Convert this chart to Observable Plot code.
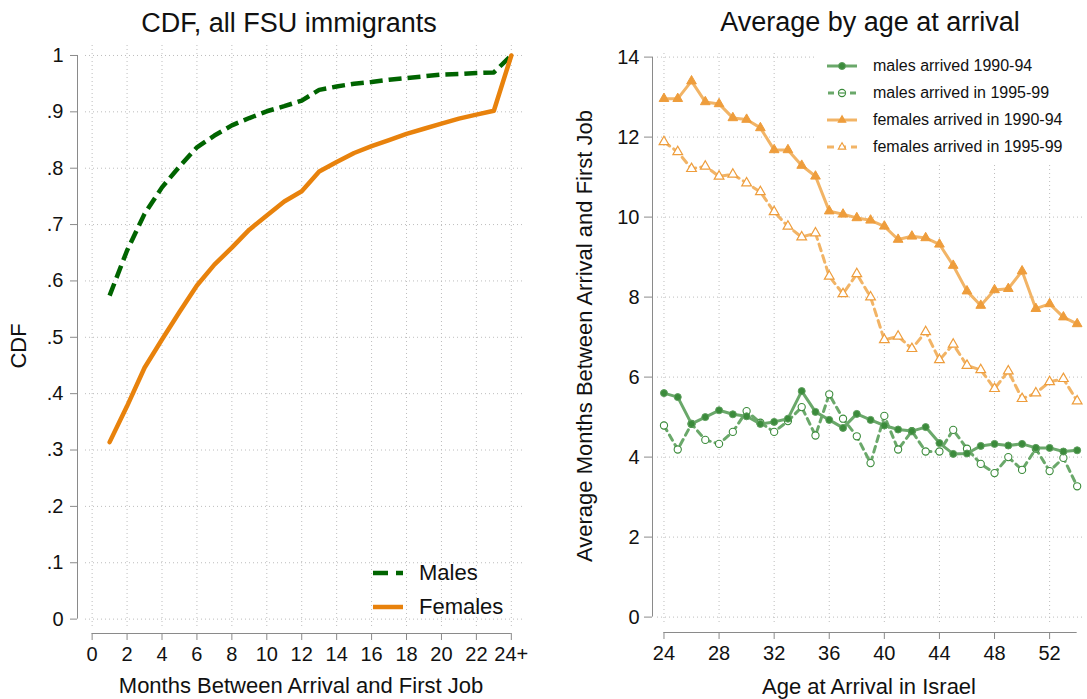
<!DOCTYPE html>
<html>
<head>
<meta charset="utf-8">
<script src="https://cdn.jsdelivr.net/npm/d3@7"></script>
<script src="https://cdn.jsdelivr.net/npm/@observablehq/plot@0.6"></script>
<style>
  body { margin: 0; background: #fff; font-family: "Liberation Sans", Arial, Helvetica, sans-serif; }
  #wrap { position: relative; width: 1087px; height: 699px; overflow: hidden; background: #fff; }
  .abs { position: absolute; white-space: nowrap; color: #111; }
  .title { font-size: 27px; transform: translate(-50%, -50%); }
  .axlab { font-size: 22px; transform: translate(-50%, -50%); }
  .ylab { font-size: 22px; transform: translate(-50%, -50%) rotate(-90deg); }
  #wrap svg.plotsvg { position: absolute; top: 0; overflow: visible; }
  .leg { position: absolute; display: flex; align-items: center; white-space: nowrap; color: #111; }
  .leg svg { display: block; margin-right: 16px; }
</style>
</head>
<body>
<div id="wrap"></div>
<script>
// ---------- Left panel data: CDF ----------
const months = [1, 2, 3, 4, 5, 6, 7, 8, 9, 10, 11, 12, 13, 14, 15, 16, 17, 18, 19, 20, 21, 22, 23, 24];
const cdfMales = [0.574, 0.654, 0.719, 0.766, 0.803, 0.837, 0.858, 0.876, 0.889, 0.901, 0.910, 0.920,
                  0.939, 0.945, 0.950, 0.953, 0.957, 0.960, 0.963, 0.966, 0.967, 0.969, 0.970, 1.000];
const cdfFemales = [0.314, 0.378, 0.446, 0.496, 0.545, 0.592, 0.629, 0.659, 0.691, 0.716, 0.741, 0.759,
                    0.794, 0.811, 0.827, 0.839, 0.850, 0.861, 0.870, 0.879, 0.888, 0.895, 0.902, 1.000];
const monthTicks = [0, 2, 4, 6, 8, 10, 12, 14, 16, 18, 20, 22, 24];
const monthTickLabels = ["0", "2", "4", "6", "8", "10", "12", "14", "16", "18", "20", "22", "24+"];
const cdfTicks = [0, 0.1, 0.2, 0.3, 0.4, 0.5, 0.6, 0.7, 0.8, 0.9, 1];
const cdfTickLabels = ["0", ".1", ".2", ".3", ".4", ".5", ".6", ".7", ".8", ".9", "1"];

// ---------- Right panel data: average by age at arrival ----------
const ages = [24, 25, 26, 27, 28, 29, 30, 31, 32, 33, 34, 35, 36, 37, 38, 39, 40, 41, 42, 43, 44, 45, 46, 47, 48, 49, 50, 51, 52, 53, 54];
const males9094 = [5.60, 5.50, 4.83, 5.00, 5.17, 5.07, 5.02, 4.83, 4.88, 4.96, 5.65, 5.13, 4.93, 4.73, 5.08, 4.93,
                   4.79, 4.69, 4.65, 4.75, 4.35, 4.08, 4.09, 4.28, 4.33, 4.29, 4.33, 4.23, 4.23, 4.14, 4.17];
const males9599 = [4.79, 4.19, 4.83, 4.43, 4.33, 4.63, 5.15, 4.86, 4.63, 4.90, 5.25, 4.54, 5.57, 4.96, 4.52, 3.85,
                   5.03, 4.19, 4.65, 4.14, 4.14, 4.68, 4.21, 3.83, 3.60, 4.00, 3.68, 4.21, 3.65, 3.98, 3.27];
const females9094 = [12.96, 12.96, 13.40, 12.88, 12.83, 12.48, 12.44, 12.23, 11.68, 11.68, 11.29, 11.02, 10.15, 10.07, 9.98, 9.92,
                     9.77, 9.44, 9.52, 9.48, 9.32, 8.79, 8.15, 7.79, 8.18, 8.21, 8.65, 7.71, 7.83, 7.50, 7.33];
const females9599 = [11.88, 11.63, 11.21, 11.27, 11.02, 11.07, 10.85, 10.63, 10.13, 9.77, 9.50, 9.60, 8.52, 8.08, 8.58, 8.00,
                     6.93, 7.02, 6.71, 7.13, 6.43, 6.82, 6.29, 6.18, 5.71, 6.15, 5.46, 5.60, 5.88, 5.96, 5.40];
const ageTicks = [24, 28, 32, 36, 40, 44, 48, 52];
const avgTicks = [0, 2, 4, 6, 8, 10, 12, 14];

const seriesNames = ["males arrived 1990-94", "males arrived in 1995-99", "females arrived in 1990-94", "females arrived in 1995-99"];

// ---------- styles ----------
const GREEN_DARK = "#006400";
const ORANGE = "#e8820c";
const G_LINE = "#6aa86a", G_MARK = "#3b8b3b";
const O_LINE = "#f2b466", O_MARK = "#ee9d3c";
const GRID = "#bdbdbd", AXIS = "#8a8a8a";
const FONT = "'Liberation Sans', Arial, Helvetica, sans-serif";

const wrap = document.getElementById("wrap");

// ---------- Left plot ----------
const cdfRows = months.map((m, i) => ({m, males: cdfMales[i], females: cdfFemales[i]}));
const xL = [-0.38, 24.64], yL = [-0.0131, 1.0177];

const left = Plot.plot({
  width: 545, height: 699,
  marginLeft: 85, marginRight: 23, marginTop: 45, marginBottom: 73,
  x: {domain: xL},
  y: {domain: yL},
  style: {fontFamily: FONT, fontSize: "20px", color: "#111", background: "transparent", overflow: "visible"},
  marks: [
    Plot.ruleY(cdfTicks, {stroke: GRID, strokeDasharray: "1,3"}),
    Plot.ruleX(monthTicks, {stroke: GRID, strokeDasharray: "1,3"}),
    Plot.ruleX([xL[0]], {y1: cdfTicks[0], y2: cdfTicks[cdfTicks.length - 1], dx: -8, stroke: AXIS}),
    Plot.ruleY([yL[0]], {x1: monthTicks[0], x2: monthTicks[monthTicks.length - 1], dy: 7, stroke: AXIS}),
    Plot.axisY({ticks: cdfTicks, tickFormat: (d, i) => cdfTickLabels[i], tickSize: 7, tickPadding: 7, dx: -8,
                stroke: AXIS, fill: "#111", fontSize: 20, label: null}),
    Plot.axisX({ticks: monthTicks, tickFormat: (d, i) => monthTickLabels[i], tickSize: 7, tickPadding: 6, dy: 7,
                stroke: AXIS, fill: "#111", fontSize: 20, label: null}),
    Plot.line(cdfRows, {x: "m", y: "males", stroke: GREEN_DARK, strokeWidth: 4.5, strokeDasharray: "13,6", strokeLinecap: "butt"}),
    Plot.line(cdfRows, {x: "m", y: "females", stroke: ORANGE, strokeWidth: 4.5})
  ]
});
left.classList.add("plotsvg");
left.style.left = "0px";
wrap.appendChild(left);

// ---------- Right plot ----------
const rows = [];
ages.forEach((a, i) => {
  rows.push({age: a, v: males9094[i], s: seriesNames[0]});
  rows.push({age: a, v: males9599[i], s: seriesNames[1]});
  rows.push({age: a, v: females9094[i], s: seriesNames[2]});
  rows.push({age: a, v: females9599[i], s: seriesNames[3]});
});
const bySeries = name => rows.filter(r => r.s === name);
const xR = [23.53, 54.46], yR = [-0.21, 14.09];

const right = Plot.plot({
  width: 542, height: 699,
  marginLeft: 112, marginRight: 4, marginTop: 53, marginBottom: 74,
  x: {domain: xR},
  y: {domain: yR},
  style: {fontFamily: FONT, fontSize: "20px", color: "#111", background: "transparent", overflow: "visible"},
  marks: [
    Plot.ruleY(avgTicks, {stroke: GRID, strokeDasharray: "1,3"}),
    Plot.ruleX(ageTicks, {stroke: GRID, strokeDasharray: "1,3"}),
    Plot.ruleX([xR[0]], {y1: avgTicks[0], y2: avgTicks[avgTicks.length - 1], dx: -5, stroke: AXIS}),
    Plot.ruleY([yR[0]], {x1: ages[0], x2: ages[ages.length - 1], dy: 7, stroke: AXIS}),
    Plot.axisY({ticks: avgTicks, tickSize: 8, tickPadding: 5, dx: -5, stroke: AXIS, fill: "#111", fontSize: 20, label: null}),
    Plot.axisX({ticks: ageTicks, tickSize: 7, tickPadding: 6, dy: 7, stroke: AXIS, fill: "#111", fontSize: 20, label: null}),
    // females
    Plot.line(bySeries(seriesNames[3]), {x: "age", y: "v", stroke: O_LINE, strokeWidth: 3, strokeDasharray: "7,5"}),
    Plot.dot(bySeries(seriesNames[3]), {x: "age", y: "v", symbol: "triangle", r: 3.6, fill: "white", stroke: O_MARK, strokeWidth: 1.2}),
    Plot.line(bySeries(seriesNames[2]), {x: "age", y: "v", stroke: O_LINE, strokeWidth: 3}),
    Plot.dot(bySeries(seriesNames[2]), {x: "age", y: "v", symbol: "triangle", r: 3.6, fill: O_MARK, stroke: O_MARK, strokeWidth: 1}),
    // males
    Plot.line(bySeries(seriesNames[1]), {x: "age", y: "v", stroke: G_LINE, strokeWidth: 3, strokeDasharray: "6,5"}),
    Plot.dot(bySeries(seriesNames[1]), {x: "age", y: "v", r: 3.6, fill: "white", stroke: G_MARK, strokeWidth: 1.1}),
    Plot.line(bySeries(seriesNames[0]), {x: "age", y: "v", stroke: G_LINE, strokeWidth: 3}),
    Plot.dot(bySeries(seriesNames[0]), {x: "age", y: "v", r: 3.5, fill: G_MARK, stroke: "#5c9e5c", strokeWidth: 1})
  ]
});
right.classList.add("plotsvg");
right.style.left = "545px";
wrap.appendChild(right);

// ---------- Text: titles and axis labels ----------
function addText(cls, text, x, y) {
  const d = document.createElement("div");
  d.className = "abs " + cls;
  d.textContent = text;
  d.style.left = x + "px";
  d.style.top = y + "px";
  wrap.appendChild(d);
}
addText("title", "CDF, all FSU immigrants", 289, 23);
addText("title", "Average by age at arrival", 870, 22);
addText("axlab", "Months Between Arrival and First Job", 301, 686);
addText("axlab", "Age at Arrival in Israel", 869, 687);
addText("ylab", "CDF", 19, 346);
addText("ylab", "Average Months Between Arrival and First Job", 585, 336);

// ---------- Legends ----------
function swatch(w, h, inner) {
  return `<svg width="${w}" height="${h}" viewBox="0 0 ${w} ${h}">${inner}</svg>`;
}
function addLegend(html, x, y, fontSize) {
  const d = document.createElement("div");
  d.className = "leg";
  d.style.left = x + "px";
  d.style.top = y + "px";
  d.style.fontSize = fontSize + "px";
  d.style.transform = "translateY(-50%)";
  d.innerHTML = html;
  wrap.appendChild(d);
}
// left legend
addLegend(swatch(30, 10, `<line x1="0" y1="5" x2="30" y2="5" stroke="${GREEN_DARK}" stroke-width="4.5" stroke-dasharray="15,8"/>`) + "Males", 373, 573, 22);
addLegend(swatch(30, 10, `<line x1="0" y1="5" x2="30" y2="5" stroke="${ORANGE}" stroke-width="4.5"/>`) + "Females", 373, 607, 22);

// right legend box (white background)
const box = document.createElement("div");
box.style.cssText = "position:absolute;left:817px;top:50px;width:266px;height:112px;background:#fff;";
wrap.appendChild(box);
const tri = (cx, cy, fill, stroke) => {
  const s = 7.5, h = s * Math.sqrt(3) / 2;
  return `<polygon points="${cx},${cy - h * 2 / 3} ${cx - s / 2},${cy + h / 3} ${cx + s / 2},${cy + h / 3}" fill="${fill}" stroke="${stroke}" stroke-width="1.1"/>`;
};
const legRows = [
  `<line x1="0" y1="7" x2="30" y2="7" stroke="${G_LINE}" stroke-width="3"/><circle cx="15" cy="7" r="3.5" fill="${G_MARK}" stroke="#5c9e5c"/>`,
  `<line x1="0" y1="7" x2="30" y2="7" stroke="${G_LINE}" stroke-width="3" stroke-dasharray="6,5" stroke-dashoffset="-1"/><circle cx="15" cy="7" r="3.6" fill="white" stroke="${G_MARK}" stroke-width="1.1"/><line x1="11.5" y1="7" x2="18.5" y2="7" stroke="${G_LINE}" stroke-width="1.5"/>`,
  `<line x1="0" y1="7" x2="30" y2="7" stroke="${O_LINE}" stroke-width="3"/>` + tri(15, 7, O_MARK, O_MARK),
  `<line x1="0" y1="7" x2="30" y2="7" stroke="${O_LINE}" stroke-width="3" stroke-dasharray="7,5"/>` + tri(15, 7, "white", O_MARK)
];
const legY = [66, 93, 120, 147];
seriesNames.forEach((name, i) => addLegend(swatch(30, 14, legRows[i]) + name, 827, legY[i], 16));
</script>
</body>
</html>
